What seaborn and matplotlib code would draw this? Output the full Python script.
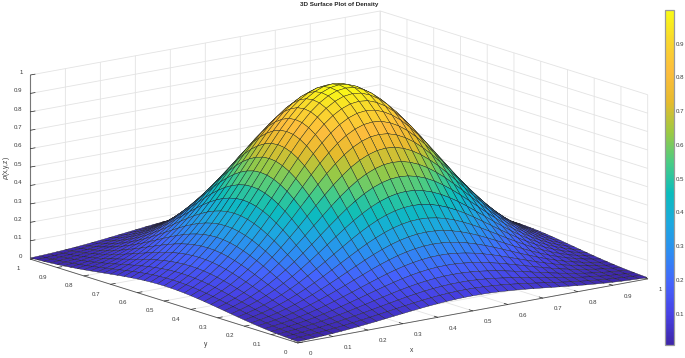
#!/usr/bin/env python3
"""3D surface of the density, seaborn theme over mplot3d."""
import matplotlib

matplotlib.use("Agg")
import matplotlib.pyplot as plt
import numpy as np
import seaborn as sns

# grid coordinates along x and y
grid_x = [0.0, 0.025, 0.05, 0.075, 0.1, 0.125, 0.15, 0.175, 0.2, 0.225, 0.25, 0.275, 0.3, 0.325,
          0.35, 0.375, 0.4, 0.425, 0.45, 0.475, 0.5, 0.525, 0.55, 0.575, 0.6, 0.625, 0.65, 0.675,
          0.7, 0.725, 0.75, 0.775, 0.8, 0.825, 0.85, 0.875, 0.9, 0.925, 0.95, 0.975, 1.0]
grid_y = grid_x
# density along the middle of the surface
profile_x = [0.082, 0.105, 0.132, 0.164, 0.202, 0.245, 0.294, 0.348, 0.407, 0.470, 0.535, 0.603,
             0.670, 0.736, 0.799, 0.855, 0.905, 0.945, 0.975, 0.994, 1.0, 0.994, 0.975, 0.945,
             0.905, 0.855, 0.799, 0.736, 0.670, 0.603, 0.535, 0.470, 0.407, 0.348, 0.294, 0.245,
             0.202, 0.164, 0.132, 0.105, 0.082]
profile_y = profile_x

ticks_xyz = [0, 0.1, 0.2, 0.3, 0.4, 0.5, 0.6, 0.7, 0.8, 0.9, 1]
tick_labels = ["0", "0.1", "0.2", "0.3", "0.4", "0.5", "0.6", "0.7", "0.8", "0.9", "1"]
cbar_ticks = [0.1, 0.2, 0.3, 0.4, 0.5, 0.6, 0.7, 0.8, 0.9]
cbar_labels = ["0.1", "0.2", "0.3", "0.4", "0.5", "0.6", "0.7", "0.8", "0.9"]

PARULA = ["#3e26a8", "#4741e5", "#4563fd", "#2d8cf3", "#1ca9df", "#0bbdbc", "#4acc84",
          "#9dc942", "#e7bb2d", "#fdbd3c", "#f9d72d", "#f9fb15"]
TEXT = "#3a3a3a"
GRID = "#e3e3e3"
FONT = "Liberation Sans"


def main() -> None:
    sns.set_theme(style="white")
    plt.rcParams["font.family"] = FONT
    cmap = sns.blend_palette(PARULA, n_colors=256, as_cmap=True)

    X, Y = np.meshgrid(grid_x, grid_y)
    Z = np.outer(profile_y, profile_x)

    fig = plt.figure(figsize=(6.85, 3.58), dpi=100)
    ax = fig.add_axes([14.5 / 685, -0.4008, 632 / 685, 632 / 358], projection="3d", proj_type="ortho")
    ax.view_init(elev=13.85, azim=-127.4)
    ax.set_box_aspect((440, 440, 189.5))

    surf = ax.plot_surface(
        X, Y, Z, rstride=1, cstride=1, cmap=cmap, vmin=Z.min(), vmax=Z.max(),
        shade=False, edgecolor="#222222", linewidth=0.28, antialiased=True,
    )

    ax.set_xlim(0, 1)
    ax.set_ylim(0, 1)
    ax.set_zlim(0, 1)
    for axis in (ax.xaxis, ax.yaxis, ax.zaxis):
        axis.set_ticks(ticks_xyz)
        axis.set_ticklabels(tick_labels, fontsize=4.4, color=TEXT)
        axis.set_pane_color((1, 1, 1, 0))
        axis.pane.set_edgecolor("none")
        axis.line.set_color("#555555")
        axis.line.set_linewidth(0.6)
        axis._axinfo["grid"].update(color=GRID, linewidth=0.6)
        axis._axinfo["tick"].update(inward_factor=0.0, outward_factor=0.17, linewidth={True: 0.5, False: 0.5}, color="#555555")
    ax.zaxis.set_ticks_position("upper")
    ax.zaxis.line.set_color("#777777")
    ax.zaxis.line.set_linewidth(0.8)
    ax.tick_params(axis="x", pad=1.5)
    ax.tick_params(axis="y", pad=-1)
    ax.tick_params(axis="z", pad=-5)
    for tick in ax.xaxis.get_major_ticks():
        tick.label1.set_ha("left")
        tick.label1.set_va("center")
    for tick in ax.yaxis.get_major_ticks():
        tick.label1.set_ha("right")
        tick.label1.set_va("top")
    for tick in ax.zaxis.get_major_ticks():
        tick.label1.set_ha("right")
        tick.label1.set_va("bottom")

    fig.text(339.5 / 685, 1 - 4.5 / 358, "3D Surface Plot of Density", ha="center", va="center", fontsize=4.5, fontweight="bold", color="#222222")
    fig.text(412 / 685, 1 - 350 / 358, "x", ha="center", va="center", fontsize=4.8, color=TEXT)
    fig.text(206 / 685, 1 - 345 / 358, "y", ha="center", va="center", fontsize=4.8, color=TEXT)
    fig.text(6 / 685, 1 - 168 / 358, r"$\rho$(x,y,z)", ha="center", va="center", rotation=90, fontsize=4.8, color=TEXT)

    cax = fig.add_axes([665 / 685, 1 - 345 / 358, 9 / 685, 335 / 358])
    cbar = fig.colorbar(surf, cax=cax)
    cbar.set_ticks(cbar_ticks, labels=cbar_labels)
    cbar.ax.tick_params(labelsize=4.4, length=2.5, width=0.5, direction="in", pad=1.5, colors=TEXT)
    cbar.outline.set_edgecolor("#9a9a9a")
    cbar.outline.set_linewidth(0.9)

    fig.savefig("out.png", dpi=100)
    plt.close(fig)


if __name__ == "__main__":
    main()
